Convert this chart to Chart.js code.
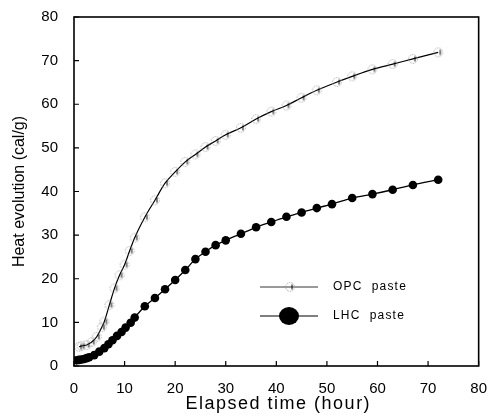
<!DOCTYPE html>
<html>
<head>
<meta charset="utf-8">
<script src="https://cdn.jsdelivr.net/npm/chart.js@4.4.1/dist/chart.umd.min.js"></script>
<style>
  html, body { margin: 0; padding: 0; background: #fff; }
  #wrap { width: 493px; height: 417px; }
</style>
</head>
<body>
<div id="wrap"><canvas id="heatChart" width="493" height="417"></canvas></div>
<script>
// elapsed time (hour) and heat evolution (cal/g)
const opcHours = [1, 1.5, 2.5, 3.5, 4.5, 5.5, 6, 7, 8, 9, 10, 11, 12, 14, 16, 18, 20, 22, 24, 26, 28, 30, 33, 36, 39, 42, 45, 48, 52, 55, 59, 63, 67, 72];
const opcHeat = [4.4, 4.6, 4.8, 5.5, 6.7, 8.9, 10.2, 14.0, 17.8, 20.8, 23.2, 26.4, 29.4, 34.1, 38.0, 41.9, 44.5, 46.8, 48.5, 50.2, 51.6, 53.0, 54.6, 56.6, 58.3, 59.7, 61.5, 63.2, 65.1, 66.4, 68.0, 69.2, 70.4, 71.9];

const lhcHours = [0.5, 1, 1.5, 2, 2.5, 3, 4, 5, 6, 6.8, 7.6, 8.5, 9.4, 10.2, 11.2, 12, 14, 16, 18, 20, 22, 24, 26, 28, 30, 33, 36, 39, 42, 45, 48, 51, 55, 59, 63, 67, 72];
const lhcHeat = [1.3, 1.4, 1.5, 1.6, 1.8, 2.0, 2.5, 3.3, 4.1, 5.0, 5.9, 6.9, 7.8, 8.8, 9.9, 11.1, 13.7, 15.6, 17.6, 19.7, 22.0, 24.5, 26.2, 27.7, 28.8, 30.3, 31.8, 33.0, 34.2, 35.2, 36.2, 37.1, 38.5, 39.4, 40.4, 41.5, 42.7];

const seriesNames = ['OPC  paste', 'LHC  paste'];
const xTicks = [0, 10, 20, 30, 40, 50, 60, 70, 80];
const yTicks = [0, 10, 20, 30, 40, 50, 60, 70, 80];
const xTitle = 'Elapsed time (hour)';
const yTitle = 'Heat evolution (cal/g)';

const FONT = 'Liberation Sans, Arial, sans-serif';

// faint open circle with a small cross tick, as the OPC markers look
function makeOpcMarker() {
  const c = document.createElement('canvas');
  c.width = 12; c.height = 12;
  const g = c.getContext('2d');
  g.strokeStyle = '#9c9c9c';
  g.lineWidth = 0.8;
  g.setLineDash([1.6, 1.1]);
  g.beginPath();
  g.arc(6, 6, 4.4, 0, Math.PI * 2);
  g.stroke();
  g.setLineDash([]);
  g.strokeStyle = '#000';
  g.lineWidth = 1;
  g.beginPath();
  g.moveTo(8, 3.5);
  g.lineTo(8, 8.5);
  g.stroke();
  return c;
}
const opcMarker = makeOpcMarker();

function toPoints(xs, ys) {
  return xs.map((x, i) => ({ x: x, y: ys[i] }));
}

// frame, inward tick marks and the spaced x title
const framePlugin = {
  id: 'frame',
  afterDraw(chart) {
    const { ctx, chartArea: a, scales } = chart;
    ctx.save();
    ctx.strokeStyle = '#000';
    ctx.lineWidth = 1.6;
    ctx.strokeRect(a.left, a.top, a.right - a.left, a.bottom - a.top);
    ctx.lineWidth = 1.2;
    ctx.beginPath();
    xTicks.forEach(v => {
      const px = scales.x.getPixelForValue(v);
      ctx.moveTo(px, a.bottom);
      ctx.lineTo(px, a.bottom - 5);
    });
    yTicks.forEach(v => {
      const py = scales.y.getPixelForValue(v);
      ctx.moveTo(a.left, py);
      ctx.lineTo(a.left + 5, py);
    });
    ctx.stroke();

    ctx.fillStyle = '#000';
    ctx.font = '18px ' + FONT;
    ctx.letterSpacing = '1.5px';
    ctx.textAlign = 'center';
    ctx.textBaseline = 'middle';
    ctx.fillText(xTitle, (a.left + a.right) / 2 + 2, 404);
    ctx.restore();
  }
};

// legend drawn inside the plot, lower right
const legendPlugin = {
  id: 'insideLegend',
  afterDraw(chart) {
    const ctx = chart.ctx;
    ctx.save();
    ctx.strokeStyle = '#000';
    // OPC row
    ctx.lineWidth = 0.8;
    ctx.beginPath();
    ctx.moveTo(260, 287);
    ctx.lineTo(318, 287);
    ctx.stroke();
    ctx.drawImage(opcMarker, 284, 281);
    // LHC row
    ctx.lineWidth = 1.2;
    ctx.beginPath();
    ctx.moveTo(260, 316);
    ctx.lineTo(318, 316);
    ctx.stroke();
    ctx.fillStyle = '#000';
    ctx.beginPath();
    ctx.ellipse(289, 316, 10, 9, 0, 0, Math.PI * 2);
    ctx.fill();
    ctx.font = '12px ' + FONT;
    ctx.letterSpacing = '1.2px';
    ctx.textBaseline = 'middle';
    ctx.fillText(seriesNames[0], 333, 287);
    ctx.fillText(seriesNames[1], 333, 316);
    ctx.restore();
  }
};

const ctx = document.getElementById('heatChart').getContext('2d');
new Chart(ctx, {
  type: 'scatter',
  data: {
    datasets: [
      {
        label: seriesNames[0],
        data: toPoints(opcHours, opcHeat),
        showLine: true,
        borderColor: '#000',
        borderWidth: 1.2,
        pointStyle: opcMarker,
        pointRadius: 5,
        cubicInterpolationMode: 'monotone',
        fill: false
      },
      {
        label: seriesNames[1],
        data: toPoints(lhcHours, lhcHeat),
        showLine: true,
        borderColor: '#000',
        borderWidth: 1.3,
        backgroundColor: '#000',
        pointBackgroundColor: '#000',
        pointBorderColor: '#000',
        pointRadius: 4.3,
        pointBorderWidth: 0,
        cubicInterpolationMode: 'monotone',
        fill: false
      }
    ]
  },
  options: {
    responsive: false,
    animation: false,
    events: [],
    layout: { padding: { top: 7, right: 7, left: 10, bottom: 0 } },
    plugins: {
      legend: { display: false },
      tooltip: { enabled: false }
    },
    scales: {
      x: {
        type: 'linear',
        min: 0,
        max: 80,
        afterBuildTicks: s => { s.ticks = xTicks.map(v => ({ value: v })); },
        afterFit: s => { s.height = 51; },
        grid: { display: false },
        border: { display: false },
        ticks: { color: '#000', font: { family: FONT, size: 15 }, padding: 6, maxRotation: 0 },
        title: { display: false }
      },
      y: {
        type: 'linear',
        min: 0,
        max: 80,
        afterBuildTicks: s => { s.ticks = yTicks.map(v => ({ value: v })); },
        afterFit: s => { s.width = 64; },
        grid: { display: false },
        border: { display: false },
        ticks: { color: '#000', font: { family: FONT, size: 15 }, padding: 8 },
        title: {
          display: true,
          text: yTitle,
          color: '#000',
          font: { family: FONT, size: 16 },
          padding: { top: 0, bottom: 4 }
        }
      }
    }
  },
  plugins: [framePlugin, legendPlugin]
});
</script>
</body>
</html>
